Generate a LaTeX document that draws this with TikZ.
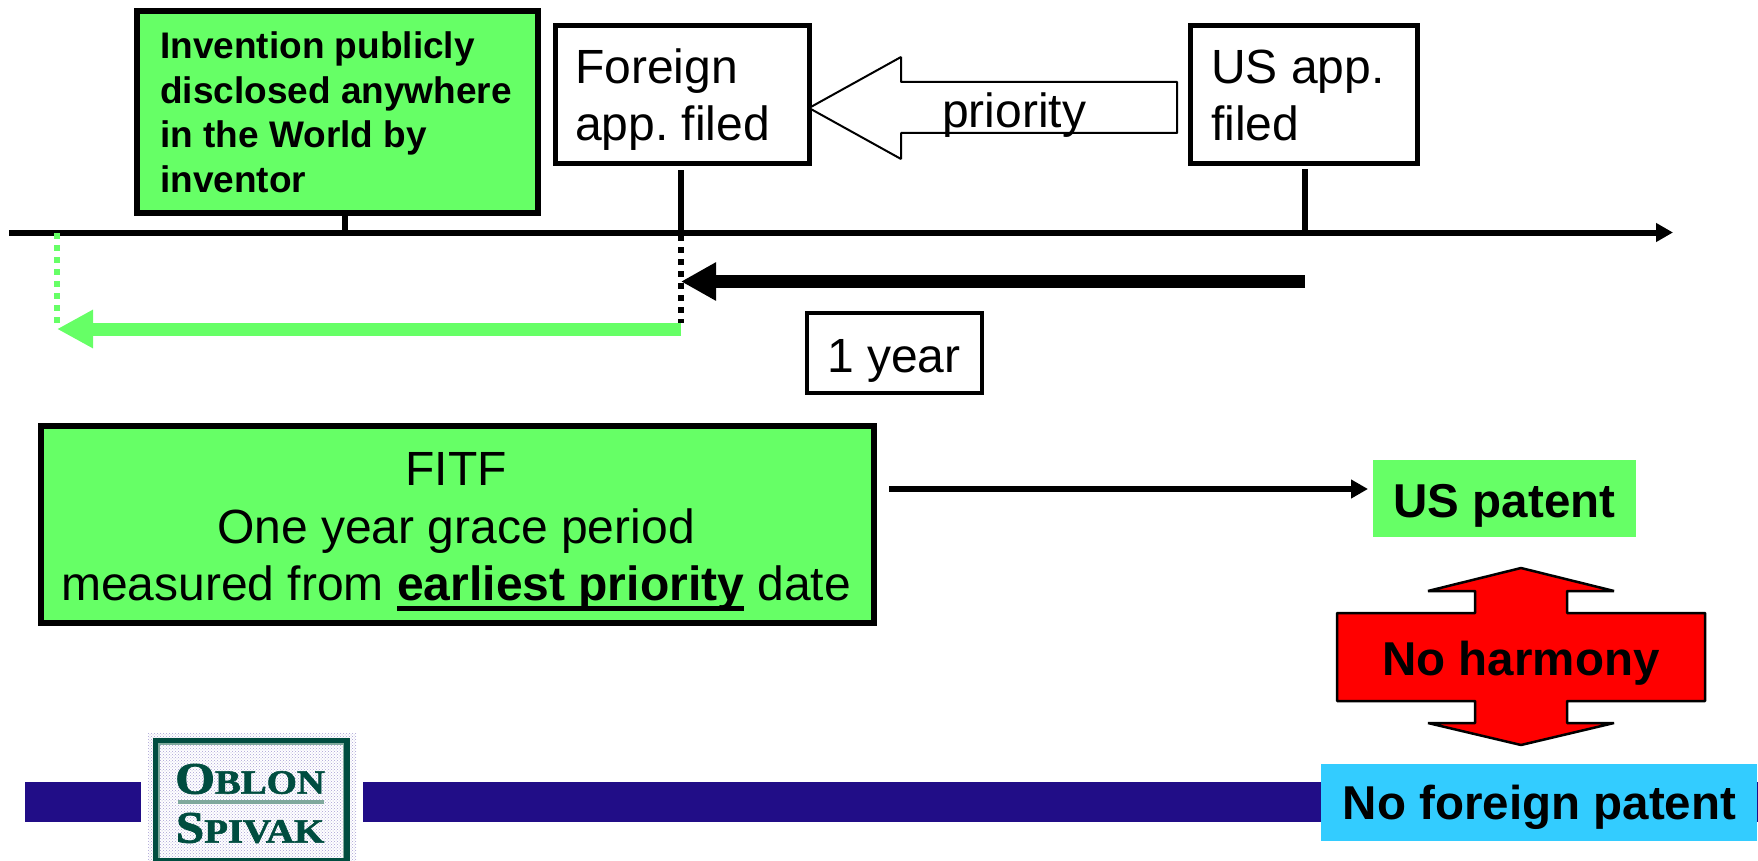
\documentclass[tikz,border=0pt]{standalone}
\usepackage{fontspec}
\setmainfont{Liberation Sans}
\newfontfamily\logofont[FakeBold=1.6]{Liberation Serif}
\usetikzlibrary{arrows.meta,patterns}
\definecolor{gr}{HTML}{66FF66}
\definecolor{bluebox}{HTML}{33CCFF}
\definecolor{barblue}{HTML}{210D87}
\definecolor{logog}{HTML}{004D40}
\definecolor{logorule}{HTML}{7FA89C}
\definecolor{logodot}{HTML}{A8A0D4}
\newcommand{\fs}[2]{\fontsize{#1}{#2}\selectfont}
\newsavebox{\ulbox}
\newcommand{\thickul}[1]{\sbox{\ulbox}{#1}\rlap{\rule[-10pt]{\wd\ulbox}{4.5pt}}\usebox{\ulbox}}
\frenchspacing
\tikzset{
  x=1pt,y=-1pt,
  boxbase/.style={anchor=north west,inner sep=0pt,outer sep=0pt},
  axisline/.style={line width=6pt,-{Triangle[length=17pt,width=18pt]}},
  tickline/.style={line width=5.5pt},
  dotblack/.style={line width=6pt,dash pattern=on 6pt off 6pt},
  dotgreen/.style={line width=6pt,gr,dash pattern=on 6pt off 6pt},
  fatblack/.style={line width=13pt,-{Triangle[length=35pt,width=36pt]}},
  fatgreen/.style={line width=13pt,gr,-{Triangle[length=36pt,width=36pt]}},
  thinarrow/.style={line width=6pt,-{Triangle[length=17pt,width=18pt]}},
  plaintext/.style={inner sep=0pt,outer sep=0pt,align=center,font=\fs{48}{57}},
  boldtext/.style={inner sep=0pt,outer sep=0pt,align=center,font=\fs{47.5}{57}\bfseries},
}
\begin{document}
\begin{tikzpicture}
\useasboundingbox (0,0) rectangle (1758,861);
% bottom bar
\fill[barblue] (25,782) rectangle (141,822);
\fill[barblue] (363,782) rectangle (1758,822);
% logo
\fill[white] (148,733) rectangle (356,861);
\fill[pattern=crosshatch dots,pattern color=logodot] (148,733) rectangle (356,861);
\draw[logog,line width=5.5pt] (155.5,861) -- (155.5,740.5) -- (347,740.5) -- (347,861);
\draw[logorule,line width=1.5pt] (159,861) -- (159,744) -- (343.5,744) -- (343.5,861);
\draw[logog,line width=4pt] (155,859.5) -- (347,859.5);
\node[inner sep=0pt,text=logog,font=\logofont\bfseries,xscale=1.14] (oblon) at (250,779) {\fs{45}{45}O\fs{34}{34}BLON};
\fill[logorule] (178,800) rectangle (324,804);
\node[inner sep=0pt,text=logog,font=\logofont\bfseries,xscale=1.14] (spivak) at (250,828) {\fs{45}{45}S\fs{34}{34}PIVAK};
% axis
\coordinate (axisL) at (9,232.5);
\coordinate (axisR) at (1673,232.5);
\draw[axisline] (axisL) -- (axisR);
% top boxes
\node[boxbase,draw=black,line width=6pt,fill=gr,minimum width=401pt,minimum height=202pt] (disc) at (137,11) {};
\node[inner sep=0pt,align=left,anchor=north west,font=\fs{37}{44.7}\bfseries] (disctext) at (160,31.5) {Invention publicly\\disclosed anywhere\\in the World by\\inventor};
\node[boxbase,draw=black,line width=5pt,fill=white,minimum width=254pt,minimum height=138pt] (foreign) at (555,25.5) {};
\node[inner sep=0pt,align=left,anchor=north west,font=\fs{48}{57}] (foreigntext) at (575,49) {Foreign\\app. filed};
\node[boxbase,draw=black,line width=5pt,fill=white,minimum width=227pt,minimum height=138pt] (usapp) at (1190,25.5) {};
\node[inner sep=0pt,align=left,anchor=north west,font=\fs{48}{57}] (ustext) at (1211,49.5) {US app.\\filed};
% ticks
\coordinate (t1) at (345,232);
\coordinate (t2) at (681,232);
\coordinate (t3) at (1305,232);
\coordinate (t2top) at (681,170);
\coordinate (t3top) at (1305,169);
\draw[tickline] (t1) -- (disc.south -| t1);
\draw[tickline] (t2) -- (t2top);
\draw[tickline] (t3) -- (t3top);
% priority block arrow
\draw[line width=2pt,fill=white,line join=bevel] (foreign.east |- 0,108) -- (901,57) -- (901,82) -- (1177,82) -- (1177,133) -- (901,133) -- (901,159) -- cycle;
\node[plaintext,anchor=base] (prio) at (1014,128) {priority};
% dotted & arrows
\coordinate (gbot) at (57,323);
\coordinate (gtop) at (57,233);
\coordinate (bbot) at (681,323);
\draw[dotgreen] (gtop) -- (gbot);
\draw[dotblack] (t2) ++(0,3) -- (bbot);
\coordinate (bs) at (1305,281.5);
\coordinate (be) at (681,281.5);
\draw[fatblack] (bs) -- (be);
\coordinate (gs) at (681,329);
\coordinate (ge) at (57,329);
\draw[fatgreen] (gs) -- (ge);
% 1 year
\node[boxbase,draw=black,line width=4pt,fill=white,minimum width=175pt,minimum height=80pt] (year) at (806.5,313) {};
\node[plaintext,anchor=base] (yeartext) at (894,372) {1 year};
% FITF
\node[boxbase,draw=black,line width=6.5pt,fill=gr,minimum width=833pt,minimum height=197pt] (fitf) at (41,426) {};
\node[plaintext,anchor=base] (f1) at (456,485.5) {FITF};
\node[plaintext,anchor=base] (f2) at (456,543.5) {One year grace period};
\node[plaintext,anchor=base] (f3) at (456,600.5) {measured from \thickul{\textbf{earliest priority}} date};
% US patent
\node[boxbase,fill=gr,minimum width=263pt,minimum height=77pt] (uspat) at (1373,460) {};
\node[boldtext,anchor=base] (uspatt) at (1504.5,517) {US patent};
\coordinate (arrS) at (889,489);
\draw[thinarrow,shorten >=5pt] (arrS) -- (uspat.west |- arrS);
% no harmony
\draw[line width=2.5pt,fill=red,line join=bevel] (1521,568) -- (1614,591) -- (1567,591) -- (1567,613) -- (1705,613) -- (1705,701) -- (1567,701) -- (1567,723) -- (1614,723) -- (1521,745) -- (1428,723) -- (1475,723) -- (1475,701) -- (1337,701) -- (1337,613) -- (1475,613) -- (1475,591) -- (1428,591) -- cycle;
\node[boldtext,anchor=base] (noharm) at (1521,675) {No harmony};
% no foreign
\node[boxbase,fill=bluebox,minimum width=436pt,minimum height=77pt] (nofor) at (1321,764) {};
\node[boldtext,anchor=base] (nofort) at (1539.5,819) {No foreign patent};
\end{tikzpicture}
\end{document}
